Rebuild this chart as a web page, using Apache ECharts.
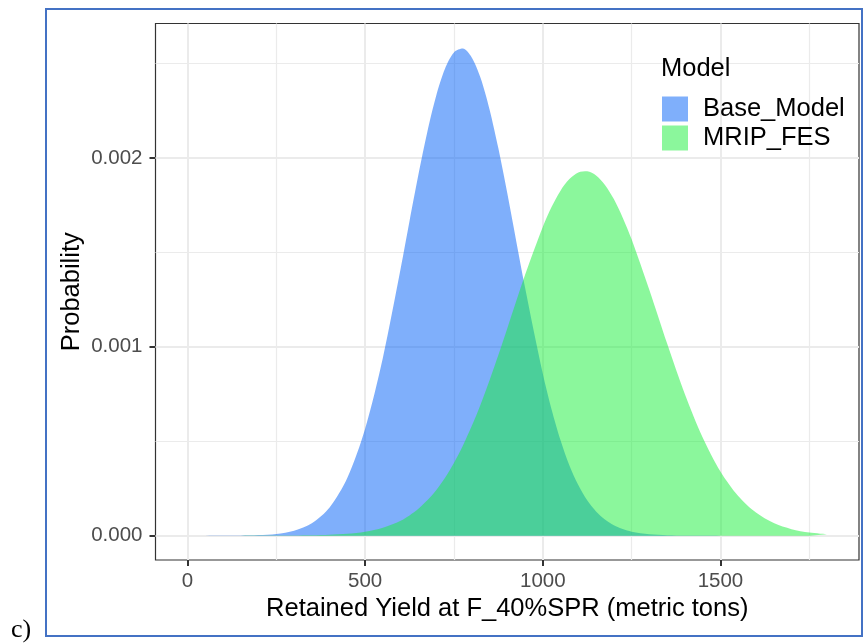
<!DOCTYPE html>
<html>
<head>
<meta charset="utf-8">
<script src="https://cdn.jsdelivr.net/npm/echarts@6/dist/echarts.min.js"></script>
<style>
  html, body { margin: 0; padding: 0; background: #fff; }
  #chart { width: 864px; height: 643px; }
</style>
</head>
<body>
<div id="chart"></div>
<script>
// values (denser near the peaks)
const xValues = [0, 50, 100, 150, 200, 250, 300, 350, 400, 450, 500, 550, 600, 625, 650, 675, 700, 725, 750,
  775, 800, 825, 850, 875, 900, 950, 1000, 1025, 1050, 1075, 1100, 1125, 1150, 1175, 1200, 1225, 1250,
  1300, 1350, 1400, 1450, 1500, 1550, 1600, 1650, 1700, 1750, 1800];
const baseModel = [0, 0, 0.0000002, 0.0000009, 0.000003, 0.000009, 0.000026, 0.000066, 0.000149, 0.000306,
  0.000566, 0.000942, 0.001414, 0.001666, 0.001912, 0.002138, 0.002330, 0.002474, 0.002559,
  0.002579, 0.002532, 0.002423, 0.002258, 0.002051, 0.001815, 0.001315, 0.000858, 0.000667, 0.000505,
  0.000372, 0.000268, 0.000187, 0.000128, 0.000085, 0.000055, 0.0000347, 0.000021,
  0.0000075, 0.0000024, 0.0000007, 0.0000002, 0, 0, 0, 0, 0, 0, 0];
const mripFes = [0, 0, 0, 0, 0.0000001, 0.0000002, 0.0000007, 0.0000017, 0.0000042, 0.0000095,
  0.0000205, 0.0000415, 0.000079, 0.000107, 0.000142, 0.000187, 0.000241, 0.000307, 0.000385,
  0.000476, 0.000580, 0.000695, 0.000822, 0.000956, 0.001097, 0.001380, 0.001635, 0.001741, 0.001827,
  0.001888, 0.001923, 0.001929, 0.001907, 0.001857, 0.001782, 0.001684, 0.001569,
  0.001301, 0.001017, 0.000749, 0.000520, 0.000340, 0.000210, 0.000122, 0.0000665, 0.0000343, 0.0000167, 0.0000076];
const seriesNames = ['Base_Model', 'MRIP_FES'];
const xTicks = [0, 500, 1000, 1500];
const xMinor = [250, 750, 1250, 1750];
const yTicks = [0, 0.001, 0.002];
const yMinor = [0.0005, 0.0015, 0.0025];

const FONT = 'Liberation Sans';
const pairs = (ys) => xValues.map((x, i) => [x, ys[i]]);

const gridLines = []
  .concat(xTicks.map(v => ({ xAxis: v, lineStyle: { width: 2 } })))
  .concat(xMinor.map(v => ({ xAxis: v, lineStyle: { width: 1.2 } })))
  .concat(yTicks.map(v => ({ yAxis: v, lineStyle: { width: 2 } })))
  .concat(yMinor.map(v => ({ yAxis: v, lineStyle: { width: 1.2 } })));

const chart = echarts.init(document.getElementById('chart'), null, { renderer: 'canvas' });

chart.setOption({
  animation: false,
  backgroundColor: '#fff',
  title: {
    text: 'Model',
    left: 661,
    top: 56,
    padding: 0,
    textStyle: { fontFamily: FONT, fontSize: 25.5, fontWeight: 'normal', color: '#000' }
  },
  legend: {
    data: seriesNames,
    orient: 'vertical',
    left: 662,
    top: 96,
    padding: 0,
    itemWidth: 26,
    itemHeight: 25,
    itemGap: 3,
    icon: 'rect',
    textStyle: { fontFamily: FONT, fontSize: 25.5, color: '#000', lineHeight: 25, padding: [0, 0, 0, 10] }
  },
  grid: {
    left: 155.5,
    top: 23.5,
    right: 5,
    bottom: 83,
    containLabel: false,
    show: true,
    borderColor: '#333333',
    borderWidth: 1.2,
    backgroundColor: 'transparent'
  },
  xAxis: {
    type: 'value',
    min: -90,
    max: 1890,
    name: 'Retained Yield at F_40%SPR (metric tons)',
    nameLocation: 'middle',
    nameGap: 36,
    nameMoveOverlap: false,
    nameTextStyle: { fontFamily: FONT, fontSize: 25.5, color: '#000' },
    axisLine: { show: false, onZero: false },
    splitLine: { show: false },
    axisTick: { show: true, length: 6, customValues: xTicks, lineStyle: { color: '#333333', width: 2 } },
    axisLabel: {
      customValues: xTicks,
      margin: 11,
      fontFamily: FONT,
      fontSize: 20.5,
      color: '#4D4D4D',
      formatter: v => String(v)
    }
  },
  yAxis: {
    type: 'value',
    min: -0.000129,
    max: 0.002712,
    name: 'Probability',
    nameLocation: 'middle',
    nameGap: 71,
    nameMoveOverlap: false,
    nameTextStyle: { fontFamily: FONT, fontSize: 25.5, color: '#000' },
    axisLine: { show: false, onZero: false },
    splitLine: { show: false },
    axisTick: { show: true, length: 6, customValues: yTicks, lineStyle: { color: '#333333', width: 2 } },
    axisLabel: {
      customValues: yTicks,
      margin: 13,
      fontFamily: FONT,
      fontSize: 20.5,
      color: '#4D4D4D',
      formatter: v => v.toFixed(3)
    }
  },
  series: [
    {
      name: 'grid',
      type: 'line',
      data: [],
      z: 1,
      silent: true,
      markLine: {
        z: 1,
        silent: true,
        symbol: 'none',
        precision: 8,
        animation: false,
        label: { show: false },
        lineStyle: { color: '#EBEBEB', type: 'solid' },
        emphasis: { disabled: true },
        data: gridLines
      }
    },
    {
      name: seriesNames[0],
      type: 'line',
      z: 2,
      data: pairs(baseModel),
      smooth: 0.3,
      showSymbol: false,
      color: 'rgba(0, 96, 247, 0.5)',
      lineStyle: { width: 0, opacity: 0 },
      areaStyle: { color: 'rgba(0, 96, 247, 0.5)', opacity: 1 }
    },
    {
      name: seriesNames[1],
      type: 'line',
      z: 3,
      data: pairs(mripFes),
      smooth: 0.3,
      showSymbol: false,
      color: 'rgba(24, 240, 58, 0.5)',
      lineStyle: { width: 0, opacity: 0 },
      areaStyle: { color: 'rgba(24, 240, 58, 0.5)', opacity: 1 }
    }
  ],
  graphic: [
    {
      type: 'rect',
      shape: { x: 46, y: 9, width: 816, height: 627 },
      style: { fill: null, stroke: '#4472C4', lineWidth: 2 },
      silent: true
    },
    {
      type: 'text',
      x: 11,
      y: 630,
      style: { text: 'c)', font: '26px "Liberation Serif"', fill: '#000', verticalAlign: 'middle' },
      silent: true
    }
  ]
});
</script>
</body>
</html>
